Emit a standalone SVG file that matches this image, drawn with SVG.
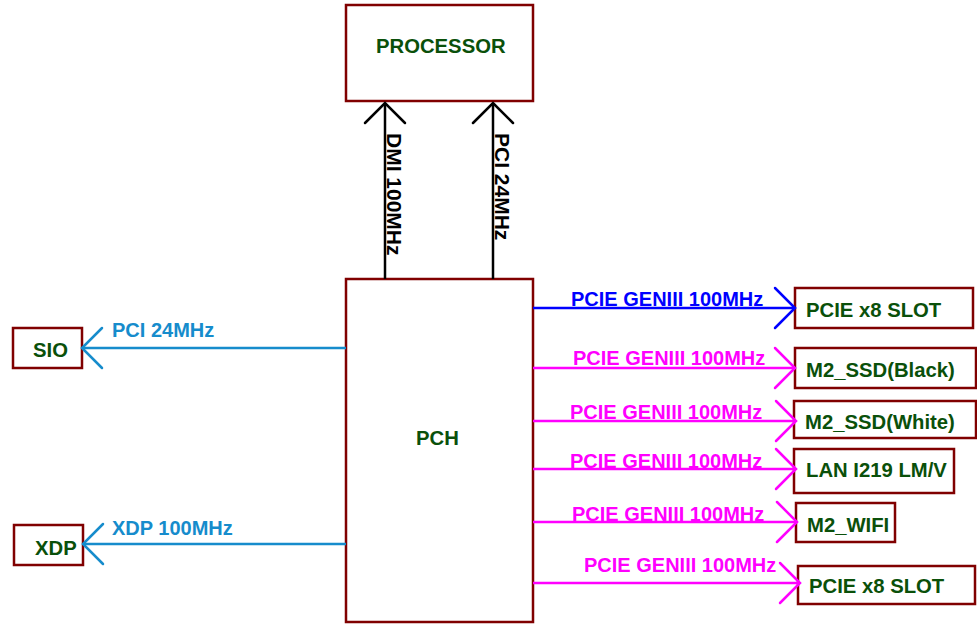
<svg xmlns="http://www.w3.org/2000/svg" width="977" height="625" viewBox="0 0 977 625">
<style>
  .box { fill: #ffffff; stroke: #800000; stroke-width: 2.5; }
  .nt { font-family: "Liberation Sans", Arial, sans-serif; font-weight: bold; font-size: 20.3px; fill: #0a500a; }
  .lt { font-family: "Liberation Sans", Arial, sans-serif; font-weight: bold; font-size: 20px; }
  .vt { font-size: 21px; }
  .ln { fill: none; stroke-width: 2.5; }
  .k { stroke: #000000; }
  .b { stroke: #0000ff; }
  .m { stroke: #ff00ff; }
  .c { stroke: #168ccc; }
</style>
<defs>
  <marker id="ak" markerUnits="userSpaceOnUse" viewBox="-22 -22 24 44" refX="0" refY="0" markerWidth="24" markerHeight="44" orient="auto" overflow="visible">
    <path d="M-20,-20 L0,0 L-20,20" fill="none" stroke="#000000" stroke-width="2.5" stroke-linecap="round"/>
  </marker>
  <marker id="ab" markerUnits="userSpaceOnUse" viewBox="-22 -22 24 44" refX="0" refY="0" markerWidth="24" markerHeight="44" orient="auto" overflow="visible">
    <path d="M-20,-20 L0,0 L-20,20" fill="none" stroke="#0000ff" stroke-width="2.5" stroke-linecap="round"/>
  </marker>
  <marker id="am" markerUnits="userSpaceOnUse" viewBox="-22 -22 24 44" refX="0" refY="0" markerWidth="24" markerHeight="44" orient="auto" overflow="visible">
    <path d="M-20,-20 L0,0 L-20,20" fill="none" stroke="#ff00ff" stroke-width="2.5" stroke-linecap="round"/>
  </marker>
  <marker id="ac" markerUnits="userSpaceOnUse" viewBox="-22 -22 24 44" refX="0" refY="0" markerWidth="24" markerHeight="44" orient="auto" overflow="visible">
    <path d="M-20,-20 L0,0 L-20,20" fill="none" stroke="#168ccc" stroke-width="2.5" stroke-linecap="round"/>
  </marker>
</defs>
<rect width="977" height="625" fill="#ffffff"/>

<g id="processor">
  <rect class="box" x="346" y="5" width="187" height="96"/>
  <text class="nt" x="376" y="53">PROCESSOR</text>
</g>
<g id="pch">
  <rect class="box" x="346" y="279" width="187" height="343"/>
  <text class="nt" x="416" y="445">PCH</text>
</g>
<g id="sio">
  <rect class="box" x="13" y="328" width="69" height="40"/>
  <text class="nt" x="33" y="357">SIO</text>
</g>
<g id="xdp">
  <rect class="box" x="14" y="525" width="69" height="40"/>
  <text class="nt" x="35" y="555">XDP</text>
</g>
<g id="pcie_slot_1">
  <rect class="box" x="795" y="288" width="178" height="40"/>
  <text class="nt" x="806" y="317">PCIE x8 SLOT</text>
</g>
<g id="m2_ssd_black">
  <rect class="box" x="795" y="348" width="181" height="40"/>
  <text class="nt" x="806" y="377">M2_SSD(Black)</text>
</g>
<g id="m2_ssd_white">
  <rect class="box" x="794" y="401" width="182" height="37"/>
  <text class="nt" x="805" y="429">M2_SSD(White)</text>
</g>
<g id="lan">
  <rect class="box" x="794" y="449" width="160" height="44"/>
  <text class="nt" x="806" y="477">LAN I219 LM/V</text>
</g>
<g id="m2_wifi">
  <rect class="box" x="796" y="503" width="99" height="39"/>
  <text class="nt" x="807" y="532">M2_WIFI</text>
</g>
<g id="pcie_slot_2">
  <rect class="box" x="798" y="566" width="177" height="38"/>
  <text class="nt" x="809" y="593">PCIE x8 SLOT</text>
</g>

<g id="connectors">
  <path class="ln k" d="M385,279 L385,103" marker-end="url(#ak)"/>
  <path class="ln k" d="M493,279 L493,103" marker-end="url(#ak)"/>
  <text class="lt vt" fill="#000000" transform="translate(387,133) rotate(90)">DMI 100MHz</text>
  <text class="lt vt" fill="#000000" transform="translate(495,133) rotate(90)">PCI 24MHz</text>

  <path class="ln c" d="M346,348 L82,348" marker-end="url(#ac)"/>
  <text class="lt" fill="#168ccc" x="112" y="337">PCI 24MHz</text>
  <path class="ln c" d="M346,544 L83,544" marker-end="url(#ac)"/>
  <text class="lt" fill="#168ccc" x="112" y="535">XDP 100MHz</text>

  <path class="ln b" d="M533,308 L795,308" marker-end="url(#ab)"/>
  <text class="lt" fill="#0000ff" x="571" y="306">PCIE GENIII 100MHz</text>
  <path class="ln m" d="M533,368 L795,368" marker-end="url(#am)"/>
  <text class="lt" fill="#ff00ff" x="573" y="365">PCIE GENIII 100MHz</text>
  <path class="ln m" d="M533,421 L796,421" marker-end="url(#am)"/>
  <text class="lt" fill="#ff00ff" x="570" y="419">PCIE GENIII 100MHz</text>
  <path class="ln m" d="M533,469 L796,469" marker-end="url(#am)"/>
  <text class="lt" fill="#ff00ff" x="570" y="468">PCIE GENIII 100MHz</text>
  <path class="ln m" d="M533,522 L797,522" marker-end="url(#am)"/>
  <text class="lt" fill="#ff00ff" x="572" y="521">PCIE GENIII 100MHz</text>
  <path class="ln m" d="M533,583 L800,583" marker-end="url(#am)"/>
  <text class="lt" fill="#ff00ff" x="584" y="572">PCIE GENIII 100MHz</text>
</g>
</svg>
